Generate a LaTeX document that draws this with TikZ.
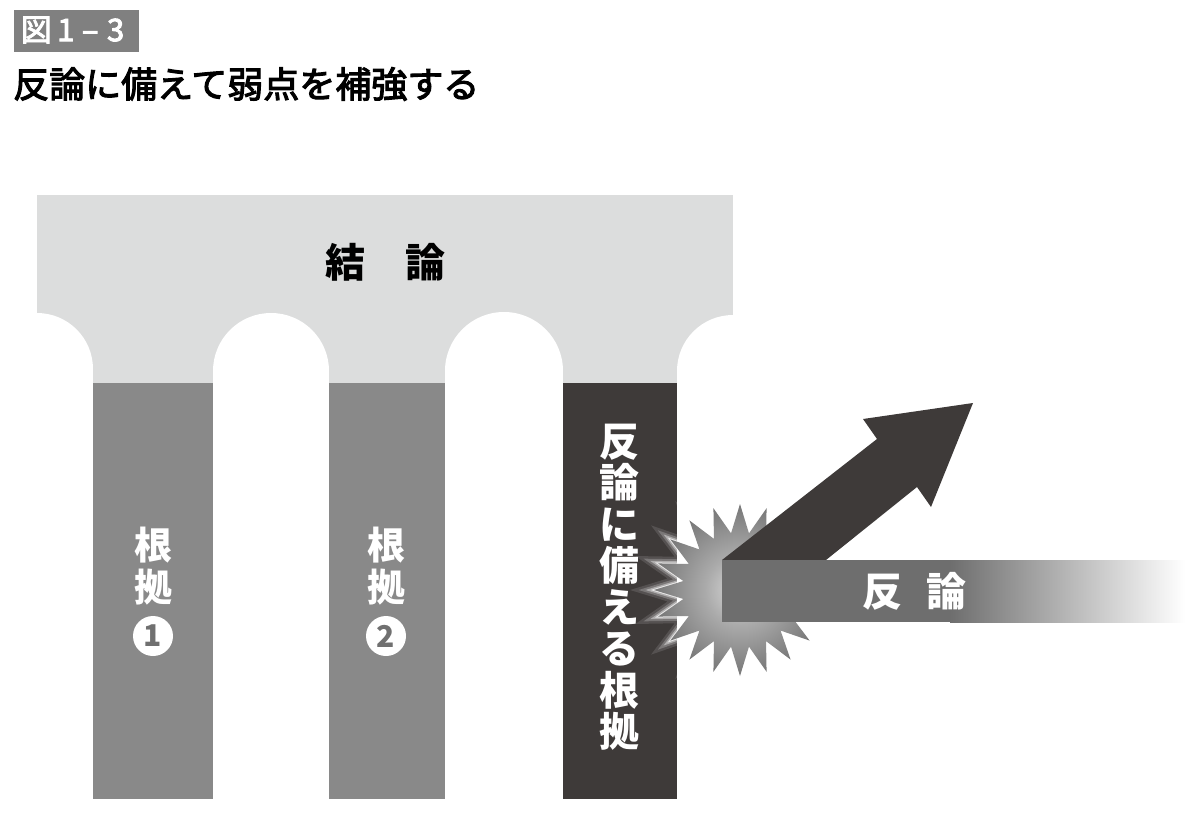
\documentclass[tikz,border=0pt]{standalone}
\usepackage{fontspec}
\newfontfamily\jp{Noto Sans CJK JP}
\newfontfamily\jpmed{Noto Sans CJK JP}[FakeBold=3]
\usetikzlibrary{shapes.geometric}
\definecolor{slabgray}{HTML}{DCDDDD}
\definecolor{pilgray}{HTML}{898989}
\definecolor{darkgray}{HTML}{3E3A39}
\definecolor{bargray}{HTML}{6E6E6E}
\definecolor{taggray}{HTML}{808080}
\definecolor{digitgray}{HTML}{707070}
\definecolor{bA}{HTML}{DADADA}
\definecolor{bB}{HTML}{ABABAB}
\definecolor{bC}{HTML}{6C6C6C}
\definecolor{bD}{HTML}{484848}
\pgfdeclareradialshading{burst}{\pgfpoint{0bp}{0bp}}{color(0bp)=(bA); color(10bp)=(bB); color(28bp)=(bC); color(42bp)=(bD); color(50bp)=(bD)}
\tikzset{
  pillarbox/.style={minimum width=#1, minimum height=416, anchor=north west, inner sep=0pt},
  kanjicol/.style={font=\jp\bfseries\fontsize{#1}{41.5}\selectfont, text=white, align=center, inner sep=0pt},
  numdisc/.style={circle, fill=white, minimum size=40pt, inner sep=0pt, font=\jp\bfseries\fontsize{30}{30}\selectfont, text=digitgray},
  burstshape/.style={star, star points=20, star point ratio=1.5, minimum size=172, inner sep=0pt},
}
\begin{document}
\begin{tikzpicture}[x=1pt,y=-1pt]
\useasboundingbox (0,0) rectangle (1200,816);
% figure tag and title
\node[fill=taggray, minimum width=125, minimum height=42, inner sep=0pt, anchor=north west] (tag) at (14,10) {};
\node[font=\jpmed\fontsize{31}{31}\selectfont, text=white, inner sep=0pt] (tagtext) at (72.5,30) {図\hspace{5.5pt}1\hspace{7.5pt}–\hspace{8.5pt}3};
\node[font=\jpmed\fontsize{36}{36}\selectfont, anchor=west, inner sep=0pt] (title) at (13,84) {反論に備えて弱点を補強する};
% slab with arches
\fill[slabgray] (37,195) rectangle (733,383);
\fill[white] (37,369) circle[radius=56];
\fill[white] (271,371) circle[radius=58];
\fill[white] (504,371) circle[radius=59];
\fill[white] (733,371) circle[radius=56];
\fill[white] (37,369) rectangle (93,384);
\fill[white] (213,371) rectangle (329,384);
\fill[white] (445,371) rectangle (563,384);
\fill[white] (677,371) rectangle (733,384);
\node[font=\jp\bfseries\fontsize{40}{40}\selectfont, inner sep=0pt] (conclusion) at (385,262) {結　論};
% pillars
\node[pillarbox=120, fill=pilgray] (p1) at (93,383) {};
\node[pillarbox=116, fill=pilgray] (p2) at (329,383) {};
\node[pillarbox=114, fill=darkgray] (p3) at (563,383) {};
\node[kanjicol=38] (p1text) at (153,566) {根\\拠};
\node[numdisc] (n1) at (153,636) {1};
\node[kanjicol=38] (p2text) at (386,566) {根\\拠};
\node[numdisc] (n2) at (386,636) {2};
\node[kanjicol=40] (p3text) at (619,587) {反\\論\\に\\備\\え\\る\\根\\拠};
% starburst with glow
\node[burstshape, draw=white, line width=14, draw opacity=0.12] (glowa) at (740,590) {};
\node[burstshape, draw=white, line width=9, draw opacity=0.22] (glowb) at (740,590) {};
\node[burstshape, draw=white, line width=5, draw opacity=0.4] (glowc) at (740,590) {};
\node[burstshape, draw=white, line width=2, draw opacity=0.7] (glowd) at (740,590) {};
\node[burstshape, shading=burst] (burst) at (740,590) {};
% deflected arrow
\fill[darkgray] (722,560) -- (877,439) -- (863,419) -- (973,403) -- (931,507) -- (917,487) -- (826,560) -- cycle;
% rebuttal bar
\fill[bargray] (722,560) rectangle (951,622);
\shade[left color=bargray, right color=white] (950,560) rectangle (1185,622);
\node[font=\jp\bfseries\fontsize{40}{40}\selectfont, text=white, inner sep=0pt] (rebuttal) at (914,591) {反\hspace{24pt}論};
\end{tikzpicture}
\end{document}
